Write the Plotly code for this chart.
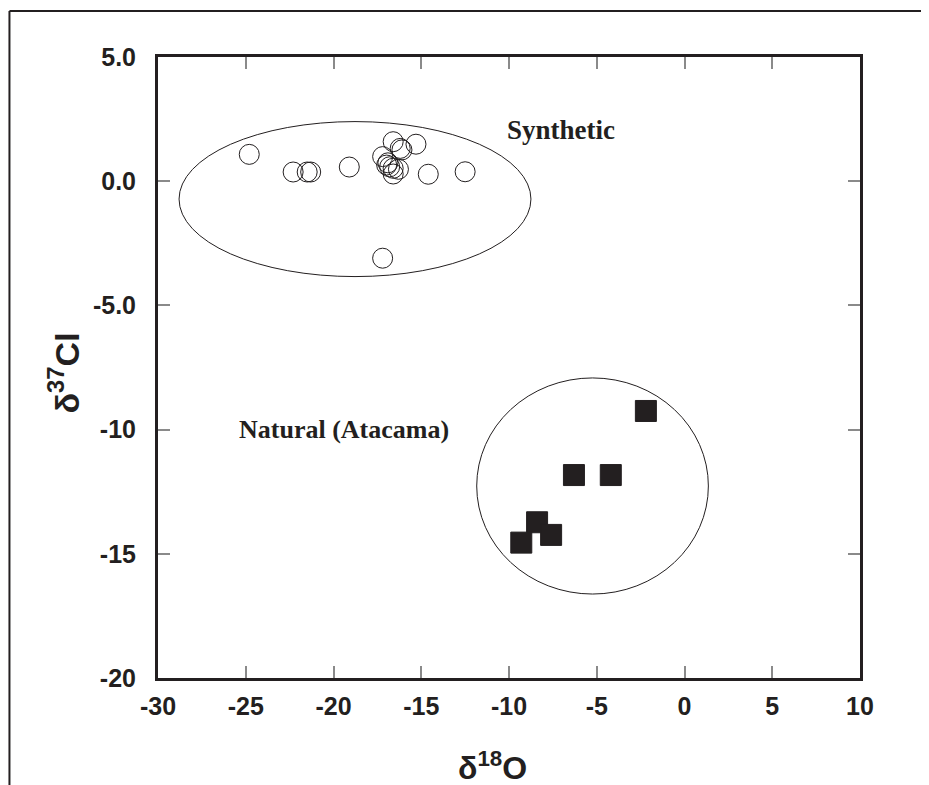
import plotly.graph_objects as go

# Data
syn_x = [-24.8, -22.3, -21.5, -21.3, -19.1, -17.2, -17.2, -16.97, -16.8, -16.6,
         -16.3, -16.6, -16.9, -16.6, -16.2, -16.1, -15.3, -14.6, -12.5]
syn_y = [1.08, 0.37, 0.37, 0.37, 0.57, -3.1, 0.99, 0.65, 0.58, 0.52,
         0.48, 0.29, 0.74, 1.59, 1.32, 1.26, 1.49, 0.28, 0.38]

nat_x = [-2.2, -6.3, -4.2, -8.4, -7.6, -9.3]
nat_y = [-9.25, -11.83, -11.83, -13.73, -14.24, -14.55]

# Group envelopes (x0, x1, y0, y1) in data units
syn_env = [-28.8, -8.75, -3.84, 2.4]
nat_env = [-11.84, 1.36, -16.62, -7.92]

x_ticks = [-30, -25, -20, -15, -10, -5, 0, 5, 10]
x_ticktext = ["-30", "-25", "-20", "-15", "-10", "-5", "0", "5", "10"]
y_ticks = [-20, -15, -10, -5, 0, 5]
y_ticktext = ["-20", "-15", "-10", "-5.0", "0.0", "5.0"]

DARK = "#231f20"

fig = go.Figure()
fig.add_trace(go.Scatter(
    x=syn_x, y=syn_y, mode="markers",
    marker=dict(symbol="circle-open", size=20, color=DARK, line=dict(width=1, color=DARK)),
    showlegend=False, hoverinfo="x+y"))
fig.add_trace(go.Scatter(
    x=nat_x, y=nat_y, mode="markers",
    marker=dict(symbol="square", size=21, color=DARK, line=dict(width=1, color=DARK)),
    showlegend=False, hoverinfo="x+y"))

for env in (syn_env, nat_env):
    fig.add_shape(type="circle", xref="x", yref="y",
                  x0=env[0], x1=env[1], y0=env[2], y1=env[3],
                  line=dict(color=DARK, width=1), layer="below")

# Outer frame (left and top)
fig.add_shape(type="line", xref="paper", yref="paper", x0=-0.2116, x1=-0.2116, y0=-0.2, y1=1.0741,
              line=dict(color=DARK, width=2))
fig.add_shape(type="line", xref="paper", yref="paper", x0=-0.2116, x1=1.2, y0=1.0741, y1=1.0741,
              line=dict(color=DARK, width=2))

serif = "Liberation Serif, Times New Roman, serif"
sans = "Liberation Sans, Arial, sans-serif"

fig.add_annotation(x=-10.2, y=2.06, xref="x", yref="y", text="<b>Synthetic</b>",
                   showarrow=False, xanchor="left", yanchor="middle",
                   font=dict(family=serif, size=27, color=DARK))
fig.add_annotation(x=-25.5, y=-10.0, xref="x", yref="y", text="<b>Natural (Atacama)</b>",
                   showarrow=False, xanchor="left", yanchor="middle",
                   font=dict(family=serif, size=26, color=DARK))

fig.add_annotation(x=0.4758, y=-0.142, xref="paper", yref="paper",
                   text="<b>δ<sup>18</sup>O</b>", showarrow=False,
                   xanchor="center", yanchor="middle",
                   font=dict(family=sans, size=32, color=DARK))
fig.add_annotation(x=-0.1346, y=0.4911, xref="paper", yref="paper",
                   text="<b>δ<sup>37</sup>Cl</b>", showarrow=False, textangle=-90,
                   xanchor="center", yanchor="middle",
                   font=dict(family=sans, size=34, color=DARK))

axis_common = dict(showline=True, linecolor=DARK, linewidth=3, mirror="ticks",
                   ticks="inside", ticklen=12, tickwidth=1.5, tickcolor="#8a8a8a",
                   showgrid=False, zeroline=False,
                   tickfont=dict(family=sans, size=25, color=DARK, weight="bold"))

fig.update_xaxes(range=[-30, 10], tickvals=x_ticks, ticktext=x_ticktext,
                 ticklabelstandoff=4, **axis_common)
fig.update_yaxes(range=[-20, 5], tickvals=y_ticks, ticktext=y_ticktext,
                 ticklabelstandoff=14, **axis_common)

# page body has an 8px margin, so the figure is sized to fill the rest of the window
fig.update_layout(width=921, height=777,
                  margin=dict(l=150, r=69, t=49, b=107),
                  plot_bgcolor="white", paper_bgcolor="white",
                  font=dict(family=sans, color=DARK, size=25))

fig.write_html("out.html")
